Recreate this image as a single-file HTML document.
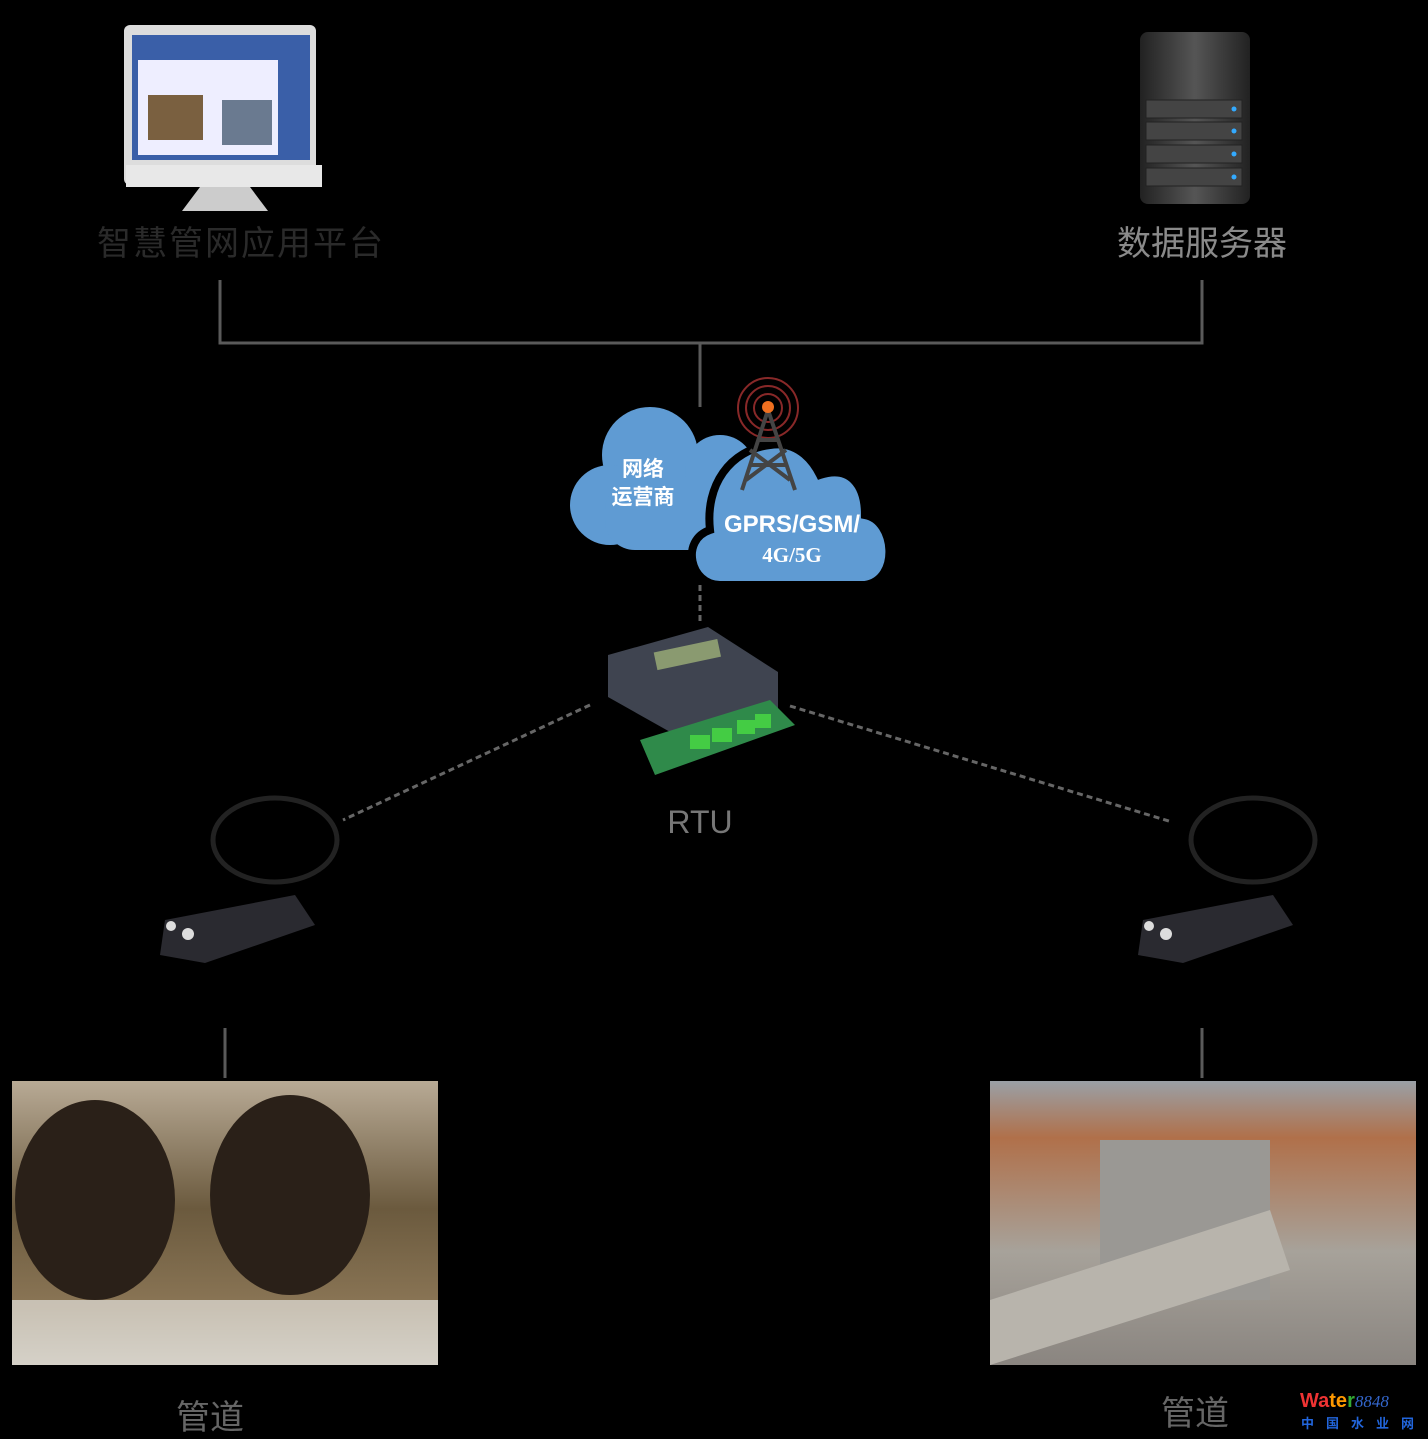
<!DOCTYPE html>
<html><head><meta charset="utf-8"><style>
body{margin:0;background:#000;width:1428px;height:1439px;overflow:hidden;position:relative;font-family:"Liberation Sans","Noto Sans CJK SC",sans-serif}
.t{position:absolute;white-space:nowrap;transform:translateX(-50%)}
</style></head><body>
<svg width="1428" height="1439" style="position:absolute;left:0;top:0">
<defs>
<linearGradient id="p1" x1="0" y1="0" x2="0" y2="1"><stop offset="0" stop-color="#b8aa95"/><stop offset=".45" stop-color="#6b5a3e"/><stop offset=".8" stop-color="#8b7656"/><stop offset="1" stop-color="#c8c2b8"/></linearGradient>
<linearGradient id="p2" x1="0" y1="0" x2="0" y2="1"><stop offset="0" stop-color="#9aa0a6"/><stop offset=".2" stop-color="#b0704a"/><stop offset=".6" stop-color="#a7a29a"/><stop offset="1" stop-color="#8a8580"/></linearGradient>
<linearGradient id="srv" x1="0" y1="0" x2="1" y2="0"><stop offset="0" stop-color="#222"/><stop offset=".5" stop-color="#555"/><stop offset="1" stop-color="#222"/></linearGradient>
</defs>
<g stroke="#5a5a5a" stroke-width="3" fill="none">
<path d="M220 280V343H1202V280M700 343V407"/>
<path d="M225 1028V1078M1202 1028V1078"/>
</g>
<g stroke="#666" stroke-width="3" stroke-dasharray="6 4" fill="none">
<path d="M700 585V625M590 705L343 820M790 706L1172 822"/>
</g>
<!-- monitor -->
<rect x="124" y="25" width="192" height="160" rx="6" fill="#ddd"/>
<rect x="132" y="35" width="178" height="125" fill="#3a5fa8"/>
<rect x="138" y="60" width="140" height="95" fill="#eef"/>
<rect x="148" y="95" width="55" height="45" fill="#7a6040"/>
<rect x="222" y="100" width="50" height="45" fill="#6a7a90"/>
<rect x="126" y="165" width="196" height="22" fill="#e8e8e8"/>
<path d="M200 187h50l18 24h-86z" fill="#ccc"/>
<!-- server -->
<rect x="1140" y="32" width="110" height="172" rx="8" fill="url(#srv)"/>
<g fill="#444" stroke="#222"><rect x="1146" y="100" width="96" height="18"/><rect x="1146" y="122" width="96" height="18"/><rect x="1146" y="145" width="96" height="18"/><rect x="1146" y="168" width="96" height="18"/></g>
<g fill="#3af"><circle cx="1234" cy="109" r="2.5"/><circle cx="1234" cy="131" r="2.5"/><circle cx="1234" cy="154" r="2.5"/><circle cx="1234" cy="177" r="2.5"/></g>
<!-- clouds -->
<g fill="#5f9bd3">
<circle cx="650" cy="455" r="48"/><circle cx="720" cy="470" r="35"/><circle cx="610" cy="505" r="40"/><rect x="605" y="480" width="140" height="70" rx="30"/>
</g>
<g fill="#5f9bd3" stroke="#000" stroke-width="8">
<path d="M720 585c-30 0-40-45-10-55c-5-45 20-80 60-85c30-5 45 20 50 30c30-10 45 10 45 40c30 5 35 65 0 70z"/>
</g>
<!-- tower -->
<g fill="none" stroke="#a33" stroke-width="2" opacity=".8"><circle cx="768" cy="408" r="14"/><circle cx="768" cy="408" r="22"/><circle cx="768" cy="408" r="30"/></g>
<g stroke="#444" stroke-width="4" fill="none"><path d="M768 410L742 490M768 410L795 490M758 440h20M750 465h36M746 480l40-30M790 480l-40-30"/></g>
<circle cx="768" cy="407" r="6" fill="#f07020"/>
<!-- RTU -->
<path d="M608 655l100-28l70 45v40l-90 30l-80-45z" fill="#3f4450"/>
<rect x="655" y="645" width="65" height="18" fill="#8a9a70" transform="rotate(-12 690 655)"/>
<path d="M640 740l130-40l25 25l-140 50z" fill="#2f8a4a"/>
<g fill="#4c4"><rect x="690" y="735" width="20" height="14"/><rect x="712" y="728" width="20" height="14"/><rect x="737" y="720" width="18" height="14"/><rect x="755" y="714" width="16" height="14"/></g>
<!-- sensors -->
<g>
<ellipse cx="275" cy="840" rx="62" ry="42" fill="none" stroke="#222" stroke-width="5"/>
<path d="M165 920l130-25l20 30l-110 38l-45-8z" fill="#2a2a30"/>
<circle cx="171" cy="926" r="5" fill="#ddd"/><circle cx="188" cy="934" r="6" fill="#ddd"/>
<ellipse cx="1253" cy="840" rx="62" ry="42" fill="none" stroke="#222" stroke-width="5"/>
<path d="M1143 920l130-25l20 30l-110 38l-45-8z" fill="#2a2a30"/>
<circle cx="1149" cy="926" r="5" fill="#ddd"/><circle cx="1166" cy="934" r="6" fill="#ddd"/>
</g>
<!-- photos -->
<rect x="12" y="1081" width="426" height="284" fill="url(#p1)"/>
<ellipse cx="95" cy="1200" rx="80" ry="100" fill="#2a2018"/>
<ellipse cx="290" cy="1195" rx="80" ry="100" fill="#2a2018"/>
<rect x="12" y="1300" width="426" height="65" fill="#d8d4cc" opacity=".8"/>
<rect x="990" y="1081" width="426" height="284" fill="url(#p2)"/>
<rect x="1100" y="1140" width="170" height="160" fill="#9a9894"/>
<path d="M990 1300l280-90l20 60l-300 95z" fill="#b8b4ac"/>
</svg>
<div class="t" style="left:241px;top:216px;font-size:34px;color:#2a2a2a;letter-spacing:2px">智慧管网应用平台</div>
<div class="t" style="left:1202px;top:216px;font-size:34px;color:#8a8a8a">数据服务器</div>
<div class="t" style="left:643px;top:456px;font-size:21px;color:#fff;font-weight:bold;line-height:28px;text-align:center">网络<br>运营商</div>
<div class="t" style="left:792px;top:511px;font-size:24px;color:#fff;font-weight:bold">GPRS/GSM/</div>
<div class="t" style="left:792px;top:543px;font-size:21px;color:#fff;font-weight:bold;font-family:'Liberation Serif',serif">4G/5G</div>
<div class="t" style="left:700px;top:804px;font-size:32px;color:#777">RTU</div>
<div class="t" style="left:210px;top:1390px;font-size:34px;color:#666">管道</div>
<div class="t" style="left:1195px;top:1386px;font-size:34px;color:#666">管道</div>
<div style="position:absolute;left:1300px;top:1391px;font-size:20px;font-weight:bold;line-height:20px"><span style="color:#e33">Wa</span><span style="color:#f90">te</span><span style="color:#3a3">r</span><span style="color:#36c;font-style:italic;font-family:'Liberation Serif',serif;font-weight:normal;font-size:17px">8848</span></div>
<div style="position:absolute;left:1301px;top:1413px;font-size:13px;color:#2266dd;letter-spacing:12px;font-weight:bold">中国水业网</div>
</body></html>
